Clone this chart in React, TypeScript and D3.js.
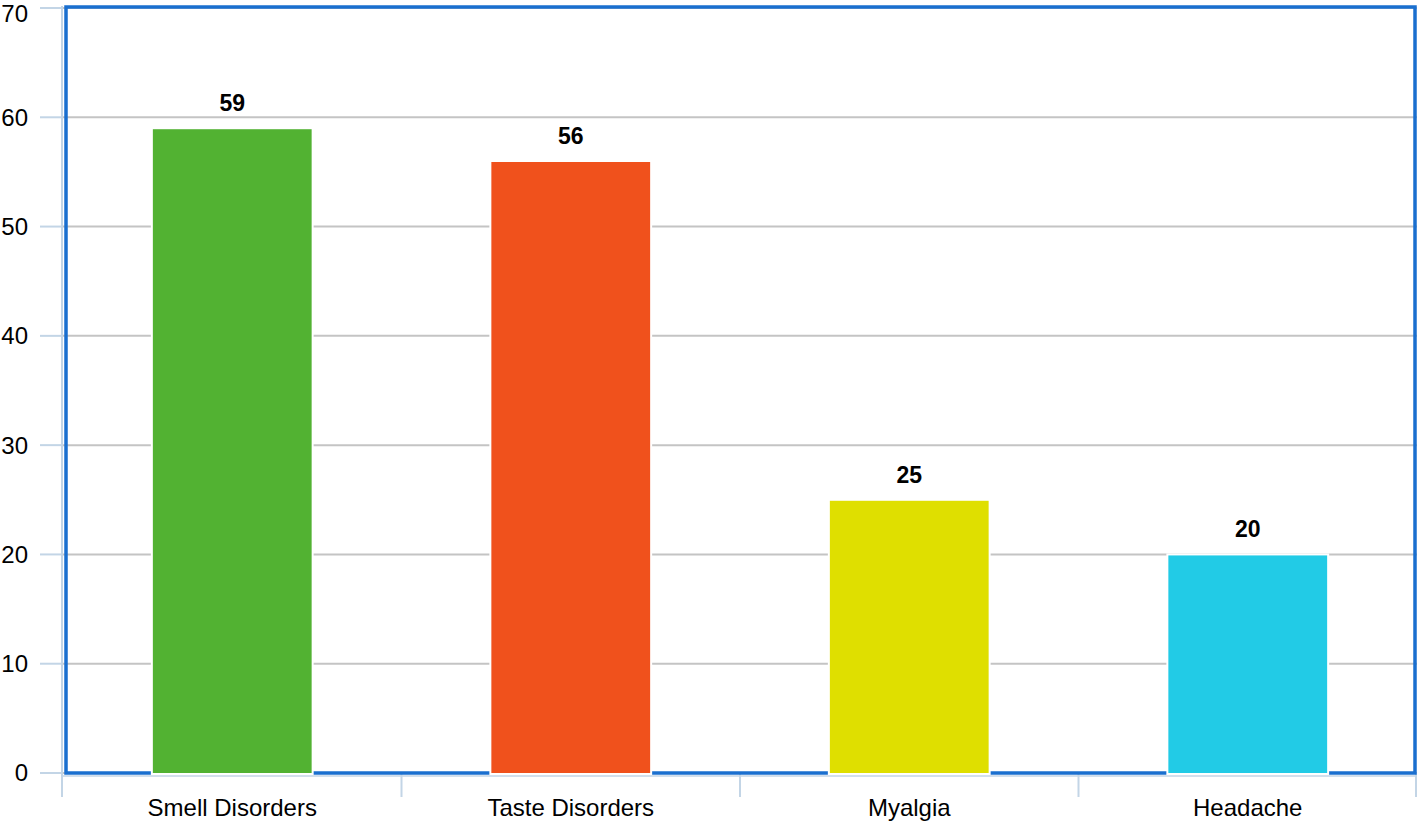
import React from 'react';
import * as d3 from 'd3';

const categories = ['Smell Disorders', 'Taste Disorders', 'Myalgia', 'Headache'];
const values = [59, 56, 25, 20];
const colors = ['#52b232', '#f0511c', '#dfdf00', '#22cbe6'];
const yTicks = [0, 10, 20, 30, 40, 50, 60, 70];

const width = 1419;
const height = 823;
const margin = { top: 8, right: 2, bottom: 49, left: 63 };

const App = () => {
  const innerW = width - margin.left - margin.right;
  const x = d3.scaleBand().domain(categories).range([margin.left, width - margin.right]).paddingInner(0).paddingOuter(0);
  const y = d3.scaleLinear().domain([0, 70]).range([height - margin.bottom - 1, margin.top]);
  const barW = x.bandwidth() * 0.475;
  const font = 'Helvetica, Arial, "Liberation Sans", sans-serif';

  return (
    <svg width={width} height={height} style={{ position: 'absolute', left: 0, top: 0, background: '#fff' }}>
      {/* grid + left ticks */}
      {yTicks.map(t => (
        <g key={t}>
          <line x1={margin.left} x2={width - margin.right} y1={y(t)} y2={y(t)} stroke="#c4c4c4" strokeWidth={2} />
          <line x1={40} x2={margin.left} y1={y(t)} y2={y(t)} stroke="#c3d5e6" strokeWidth={2} />
          <text x={28} y={Math.max(y(t), 14)} dy="0.35em" textAnchor="end" fontFamily={font} fontSize={24} fill="#000">{t}</text>
        </g>
      ))}
      {/* left axis line */}
      <line x1={margin.left - 1} x2={margin.left - 1} y1={margin.top - 2} y2={y(0) + 24} stroke="#c3d5e6" strokeWidth={2} />
      {/* bottom category ticks */}
      {categories.map((c, i) => (
        <line key={'t' + c} x1={x(c)! + (i === 0 ? -1 : 0)} x2={x(c)! + (i === 0 ? -1 : 0)} y1={y(0)} y2={y(0) + 24} stroke="#c3d5e6" strokeWidth={2} />
      ))}
      <line x1={width - margin.right - 1} x2={width - margin.right - 1} y1={y(0)} y2={y(0) + 24} stroke="#c3d5e6" strokeWidth={2} />
      <line x1={margin.left} x2={width - margin.right} y1={y(0) + 3} y2={y(0) + 3} stroke="#c3d5e6" strokeWidth={1.5} />
      {/* plot border */}
      <rect x={margin.left + 3} y={margin.top - 1} width={innerW - 5} height={y(0) - margin.top + 1} fill="none" stroke="#1a6fcf" strokeWidth={3.5} />
      {/* bars */}
      {categories.map((c, i) => {
        const bx = x(c)! + (x.bandwidth() - barW) / 2;
        return (
          <g key={c}>
            <rect x={bx} y={y(values[i])} width={barW} height={y(0) - y(values[i]) + 1} fill={colors[i]} stroke="#fff" strokeWidth={2} />
            <text x={bx + barW / 2} y={y(values[i]) - 17} textAnchor="middle" fontFamily={font} fontWeight="bold" fontSize={23} fill="#000">{values[i]}</text>
            <text x={x(c)! + x.bandwidth() / 2} y={y(0) + 43} textAnchor="middle" fontFamily={font} fontSize={24} fill="#000">{c}</text>
          </g>
        );
      })}
    </svg>
  );
};

export default App;
